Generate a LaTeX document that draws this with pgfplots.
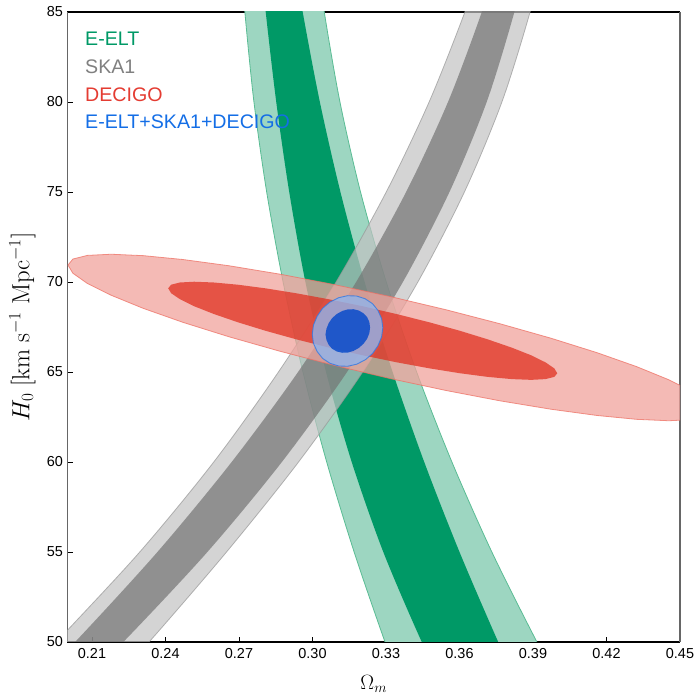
\documentclass[border=0pt]{standalone}
\usepackage[no-math]{fontspec}
\setmainfont{Liberation Sans}
\usepackage{pgfplots}
\pgfplotsset{compat=1.18}
\definecolor{gdark}{RGB}{0,153,102}
\definecolor{glight}{RGB}{157,214,193}
\definecolor{gline}{RGB}{90,188,148}
\definecolor{kdark}{RGB}{116,116,116}
\definecolor{klight}{RGB}{194,194,194}
\definecolor{kline}{RGB}{150,150,150}
\definecolor{rdark}{RGB}{224,49,33}
\definecolor{rlight}{RGB}{240,163,156}
\definecolor{rline}{RGB}{238,112,100}
\definecolor{bdark}{RGB}{0,70,202}
\definecolor{blight}{RGB}{144,180,236}
\definecolor{bline}{RGB}{50,120,226}
\definecolor{teelt}{RGB}{0,153,102}
\definecolor{tska}{RGB}{128,128,128}
\definecolor{tdec}{RGB}{228,60,50}
\definecolor{tall}{RGB}{20,110,230}
\begin{document}
\begin{tikzpicture}
\begin{axis}[
  scale only axis, width=612.5bp, height=630bp,
  xmin=0.2, xmax=0.45, ymin=50, ymax=85,
  xtick={0.21,0.24,0.27,0.30,0.33,0.36,0.39,0.42,0.45},
  xticklabels={0.21,0.24,0.27,0.30,0.33,0.36,0.39,0.42,0.45},
  ytick={50,55,60,65,70,75,80,85},
  xtick pos=bottom, ytick pos=left, tick align=inside,
  major tick length=5bp,
  tick style={black, line width=0.8bp},
  separate axis lines,
  x axis line style={black, line width=1.1bp},
  y axis line style={black!60, line width=1.1bp},
  /pgf/number format/assume math mode=true,
  ticklabel style={font=\fontsize{14.5}{17}\selectfont},
  xticklabel style={yshift=-3bp},
  yticklabel style={xshift=-1bp},
  xlabel={$\Omega_m$},
  ylabel={$H_0\ [\mathrm{km\ s^{-1}\ Mpc^{-1}}]$},
  xlabel style={font=\fontsize{22.5}{26}\selectfont, at={(axis description cs:0.5,-0.066)}, anchor=center},
  ylabel style={font=\fontsize{24}{28}\selectfont, at={(axis description cs:-0.0735,0.5)}, anchor=center},
  clip=true,
]
% E-ELT
\addplot[smooth, tension=0.5, fill=glight, draw=gline, line width=0.8bp] coordinates {
(0.2709,88) (0.2724,85) (0.2761,80) (0.2813,75) (0.2880,70) (0.2961,65) (0.3058,60) (0.3170,55) (0.3296,50) (0.3379,47)
(0.4036,47) (0.3916,50) (0.3732,55) (0.3569,60) (0.3425,65) (0.3301,70) (0.3196,75) (0.3112,80) (0.3048,85) (0.3019,88)
};
\addplot[smooth, tension=0.5, fill=gdark, draw=none] coordinates {
(0.2787,88) (0.2809,85) (0.2852,80) (0.2905,75) (0.2971,70) (0.3055,65) (0.3160,60) (0.3289,55) (0.3446,50) (0.3555,47)
(0.3860,47) (0.3758,50) (0.3600,55) (0.3456,60) (0.3327,65) (0.3213,70) (0.3114,75) (0.3030,80) (0.2960,85) (0.2925,88)
};
% SKA1
\addplot[smooth, tension=0.5, fill=klight, fill opacity=0.7, draw=kline, draw opacity=0.7, line width=0.8bp] coordinates {
(0.3695,88) (0.3622,85) (0.3476,80) (0.3301,75) (0.3096,70) (0.2861,65) (0.2597,60) (0.2295,55) (0.1955,50) (0.1750,47)
(0.2129,47) (0.2333,50) (0.2649,55) (0.2943,60) (0.3205,65) (0.3430,70) (0.3620,75) (0.3773,80) (0.3888,85) (0.3938,88)
};
\addplot[smooth, tension=0.5, fill=kdark, fill opacity=0.7, draw=none] coordinates {
(0.3758,88) (0.3691,85) (0.3553,80) (0.3382,75) (0.3178,70) (0.2941,65) (0.2670,60) (0.2367,55) (0.2031,50) (0.1813,47)
(0.2004,47) (0.2228,50) (0.2571,55) (0.2875,60) (0.3141,65) (0.3369,70) (0.3559,75) (0.3711,80) (0.3824,85) (0.3874,88)
};
% DECIGO
\addplot[fill=rlight, fill opacity=0.75, draw=rline, draw opacity=0.75, line width=0.8bp] coordinates {
(0.4630,62.892) (0.4610,62.558) (0.4551,62.356) (0.4454,62.292) (0.4323,62.370) (0.4161,62.585) (0.3973,62.932) (0.3765,63.399) (0.3544,63.975) (0.3316,64.639) (0.3088,65.373) (0.2867,66.153) (0.2659,66.957) (0.2471,67.759) (0.2309,68.536) (0.2178,69.264) (0.2081,69.920) (0.2022,70.486) (0.2002,70.942) (0.2022,71.276) (0.2081,71.478) (0.2178,71.542) (0.2309,71.464) (0.2471,71.249) (0.2659,70.903) (0.2867,70.435) (0.3088,69.859) (0.3316,69.195) (0.3544,68.461) (0.3765,67.681) (0.3973,66.878) (0.4161,66.075) (0.4323,65.298) (0.4454,64.570) (0.4551,63.914) (0.4610,63.348) (0.4630,62.892)
};
\addplot[fill=rdark, fill opacity=0.75, draw=none] coordinates {
(0.3999,64.928) (0.3987,64.728) (0.3951,64.605) (0.3893,64.563) (0.3813,64.605) (0.3715,64.728) (0.3602,64.930) (0.3477,65.203) (0.3343,65.539) (0.3205,65.928) (0.3067,66.359) (0.2933,66.817) (0.2808,67.291) (0.2695,67.764) (0.2597,68.223) (0.2517,68.653) (0.2459,69.043) (0.2423,69.378) (0.2411,69.650) (0.2423,69.850) (0.2459,69.973) (0.2517,70.015) (0.2597,69.973) (0.2695,69.850) (0.2808,69.649) (0.2933,69.375) (0.3067,69.039) (0.3205,68.650) (0.3343,68.219) (0.3477,67.761) (0.3602,67.288) (0.3715,66.814) (0.3813,66.355) (0.3893,65.925) (0.3951,65.535) (0.3987,65.200) (0.3999,64.928)
};
% combined
\addplot[fill=blight, fill opacity=0.8, draw=bline, draw opacity=0.8, line width=0.9bp] coordinates {
(0.3287,67.464) (0.3282,67.966) (0.3267,68.420) (0.3245,68.797) (0.3215,69.069) (0.3180,69.220) (0.3143,69.239) (0.3106,69.124) (0.3071,68.883) (0.3041,68.533) (0.3019,68.098) (0.3004,67.606) (0.2999,67.092) (0.3004,66.590) (0.3019,66.136) (0.3041,65.759) (0.3071,65.487) (0.3106,65.336) (0.3143,65.317) (0.3180,65.432) (0.3215,65.673) (0.3245,66.023) (0.3267,66.458) (0.3282,66.950) (0.3287,67.464)
};
\addplot[fill=bdark, fill opacity=0.8, draw=none] coordinates {
(0.3235,67.472) (0.3232,67.776) (0.3223,68.046) (0.3208,68.264) (0.3189,68.414) (0.3167,68.487) (0.3144,68.478) (0.3121,68.387) (0.3099,68.220) (0.3080,67.990) (0.3066,67.710) (0.3057,67.402) (0.3053,67.084) (0.3057,66.780) (0.3066,66.510) (0.3080,66.292) (0.3099,66.141) (0.3121,66.069) (0.3144,66.078) (0.3167,66.169) (0.3189,66.336) (0.3208,66.566) (0.3223,66.846) (0.3232,67.154) (0.3235,67.472)
};
% legend texts
\node[anchor=base west, inner sep=0pt, text=teelt, font=\fontsize{19.7}{23}\selectfont] at (rel axis cs:0.0286,0.9476) {E-ELT};
\node[anchor=base west, inner sep=0pt, text=tska, font=\fontsize{19.7}{23}\selectfont] at (rel axis cs:0.0286,0.9027) {SKA1};
\node[anchor=base west, inner sep=0pt, text=tdec, font=\fontsize{19.7}{23}\selectfont] at (rel axis cs:0.0286,0.8587) {DECIGO};
\node[anchor=base west, inner sep=0pt, text=tall, font=\fontsize{19.7}{23}\selectfont] at (rel axis cs:0.0286,0.8154) {E-ELT+SKA1+DECIGO};
\end{axis}
\pgfresetboundingbox
\path ([shift={(-67.5bp,-53bp)}]current axis.south west) rectangle ([shift={(17bp,12bp)}]current axis.north east);
\end{tikzpicture}
\end{document}
